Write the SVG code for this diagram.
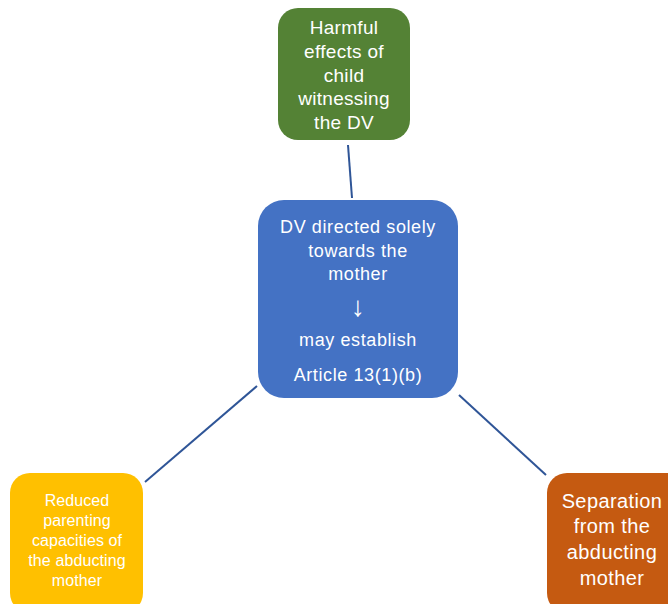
<svg xmlns="http://www.w3.org/2000/svg" width="668" height="604" viewBox="0 0 668 604">
<style>
text{font-family:"Liberation Sans",Arial,sans-serif;fill:#fff;text-anchor:middle}
.c{stroke:#2F5597;stroke-width:2;fill:none}
</style>
<rect width="668" height="604" fill="#fff"/>
<g id="connectors">
<line class="c" x1="348" y1="145" x2="352" y2="198"/>
<line class="c" x1="257" y1="386" x2="145" y2="482"/>
<line class="c" x1="459" y1="395" x2="546" y2="475"/>
</g>
<g id="harmful">
<rect x="278" y="8" width="132" height="132" rx="20" fill="#548235"/>
<text font-size="19" letter-spacing="0.3"><tspan x="344" y="34">Harmful</tspan><tspan x="344" y="58">effects of</tspan><tspan x="344" y="82">child</tspan><tspan x="344" y="105">witnessing</tspan><tspan x="344" y="129">the DV</tspan></text>
</g>
<g id="dv">
<rect x="258" y="200" width="200" height="198" rx="26" fill="#4472C4"/>
<text font-size="18" letter-spacing="0.6"><tspan x="358" y="233">DV directed solely</tspan><tspan x="358" y="257">towards the</tspan><tspan x="358" y="280">mother</tspan><tspan x="358" y="346">may establish</tspan><tspan x="358" y="381">Article 13(1)(b)</tspan></text>
<text x="358" y="316" font-size="28">↓</text>
</g>
<g id="reduced">
<rect x="10" y="473" width="133" height="140" rx="20" fill="#FFC000"/>
<text font-size="16" letter-spacing="0.1"><tspan x="77" y="506">Reduced</tspan><tspan x="77" y="526">parenting</tspan><tspan x="77" y="546">capacities of</tspan><tspan x="77" y="566">the abducting</tspan><tspan x="77" y="586">mother</tspan></text>
</g>
<g id="separation">
<rect x="547" y="473" width="140" height="140" rx="20" fill="#C55A11"/>
<text font-size="20" letter-spacing="0.4"><tspan x="612" y="508">Separation</tspan><tspan x="612" y="533">from the</tspan><tspan x="612" y="559">abducting</tspan><tspan x="612" y="585">mother</tspan></text>
</g>
</svg>
